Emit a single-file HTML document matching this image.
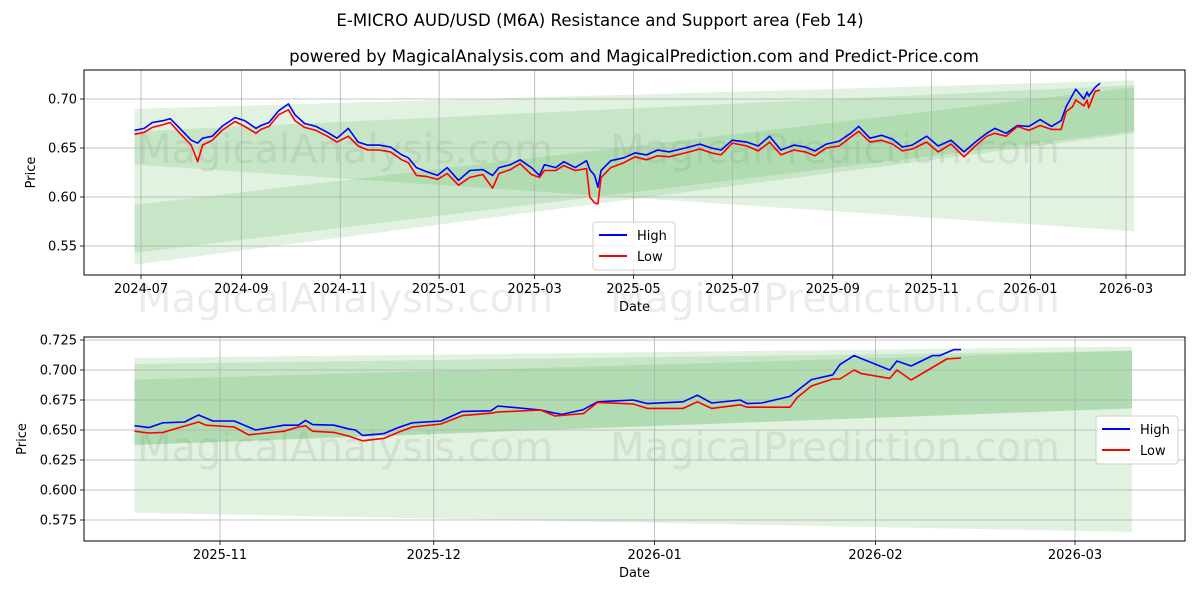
<!DOCTYPE html>
<html><head><meta charset="utf-8"><style>
body{margin:0;background:#fff;}
svg{display:block;font-family:"DejaVu Sans","Liberation Sans",sans-serif;}
</style></head><body>
<svg id="chart" width="1200" height="600" viewBox="0 0 1200 600" xmlns="http://www.w3.org/2000/svg">
<rect width="1200" height="600" fill="#fff"/>
<text x="600" y="26" text-anchor="middle" font-size="16.6">E-MICRO AUD/USD (M6A) Resistance and Support area (Feb 14)</text>
<text x="634" y="62" text-anchor="middle" font-size="16.6">powered by MagicalAnalysis.com and MagicalPrediction.com and Predict-Price.com</text>
<g id="top"></g>
<g id="bot"></g>
</svg>
<script>
// ---- top chart data ----
const topDates=["2024-06-27","2024-07-03","2024-07-08","2024-07-15","2024-07-19","2024-07-25","2024-08-01","2024-08-05","2024-08-08","2024-08-14","2024-08-20","2024-08-28","2024-09-03","2024-09-10","2024-09-13","2024-09-18","2024-09-24","2024-09-30","2024-10-04","2024-10-10","2024-10-17","2024-10-24","2024-10-30","2024-11-06","2024-11-12","2024-11-18","2024-11-25","2024-12-02","2024-12-09","2024-12-13","2024-12-18","2024-12-24","2024-12-31","2025-01-06","2025-01-13","2025-01-20","2025-01-28","2025-02-03","2025-02-07","2025-02-14","2025-02-20","2025-02-27","2025-03-04","2025-03-07","2025-03-14","2025-03-19","2025-03-26","2025-04-02","2025-04-04","2025-04-07","2025-04-09","2025-04-11","2025-04-17","2025-04-25","2025-05-02","2025-05-09","2025-05-16","2025-05-23","2025-06-02","2025-06-11","2025-06-18","2025-06-24","2025-07-01","2025-07-10","2025-07-17","2025-07-24","2025-07-31","2025-08-08","2025-08-15","2025-08-21","2025-08-28","2025-09-05","2025-09-12","2025-09-17","2025-09-24","2025-10-01","2025-10-08","2025-10-14","2025-10-20","2025-10-29","2025-11-05","2025-11-13","2025-11-21","2025-11-28","2025-12-05","2025-12-10","2025-12-17","2025-12-24","2025-12-31","2026-01-07","2026-01-14","2026-01-20","2026-01-23","2026-01-27","2026-01-29","2026-02-03","2026-02-05","2026-02-06","2026-02-10","2026-02-13"];
const topHigh=[.668,.670,.676,.678,.680,.670,.658,.655,.660,.662,.672,.681,.678,.670,.673,.676,.688,.695,.684,.675,.672,.666,.660,.670,.656,.653,.653,.651,.643,.640,.630,.626,.622,.630,.617,.627,.628,.622,.630,.633,.638,.630,.622,.633,.630,.636,.630,.637,.628,.622,.610,.627,.637,.640,.645,.643,.648,.646,.650,.654,.650,.648,.658,.656,.652,.662,.648,.653,.651,.647,.654,.657,.665,.672,.660,.663,.659,.651,.653,.662,.652,.658,.646,.656,.665,.670,.665,.673,.672,.679,.672,.678,.692,.704,.710,.700,.707,.703,.712,.716];
const topLow=[.664,.666,.671,.674,.676,.665,.653,.636,.653,.658,.668,.677,.672,.665,.669,.672,.684,.689,.678,.671,.668,.662,.656,.662,.652,.648,.648,.646,.638,.635,.622,.621,.618,.624,.612,.620,.623,.609,.624,.628,.634,.623,.620,.627,.627,.632,.627,.629,.600,.594,.593,.620,.630,.635,.641,.638,.642,.641,.645,.649,.645,.643,.655,.652,.647,.656,.643,.648,.646,.642,.650,.652,.661,.667,.656,.658,.654,.647,.649,.656,.646,.654,.641,.652,.662,.665,.662,.672,.668,.673,.669,.669,.687,.692,.699,.693,.699,.691,.708,.709];
const topTickDates=["2024-07-01","2024-09-01","2024-11-01","2025-01-01","2025-03-01","2025-05-01","2025-07-01","2025-09-01","2025-11-01","2026-01-01","2026-03-01"];
const topTickLabels=["2024-07","2024-09","2024-11","2025-01","2025-03","2025-05","2025-07","2025-09","2025-11","2026-01","2026-03"];
const topYTicks=[0.55,0.60,0.65,0.70];
const topBandStart="2024-06-27", topBandEnd="2026-03-06";
const topBandStartTop=[0.690,0.667,0.592];
const topBandStartBot=[0.633,0.543,0.531];
const topBandEndTop=[0.719,0.714,0.712];
const topBandEndBot=[0.565,0.667,0.665];
// ---- bottom chart data ----
const botHighDates=["2025-10-20","2025-10-22","2025-10-24","2025-10-27","2025-10-29","2025-10-31","2025-11-03","2025-11-05","2025-11-06","2025-11-10","2025-11-12","2025-11-13","2025-11-14","2025-11-17","2025-11-19","2025-11-20","2025-11-21","2025-11-24","2025-11-26","2025-11-28","2025-12-02","2025-12-05","2025-12-09","2025-12-10","2025-12-16","2025-12-18","2025-12-19","2025-12-22","2025-12-24","2025-12-29","2025-12-31","2026-01-05","2026-01-07","2026-01-09","2026-01-13","2026-01-14","2026-01-16","2026-01-20","2026-01-23","2026-01-26","2026-01-27","2026-01-29","2026-02-03","2026-02-04","2026-02-06","2026-02-09","2026-02-10","2026-02-12","2026-02-13"];
const botHigh=[.6536,.652,.656,.6567,.6625,.6575,.6575,.6525,.650,.654,.654,.658,.6545,.654,.651,.650,.6455,.647,.652,.656,.6575,.6655,.666,.670,.6667,.664,.663,.667,.6735,.675,.672,.6735,.679,.6725,.675,.672,.6725,.678,.692,.696,.7045,.712,.700,.7075,.7033,.712,.712,.717,.717];
const botLowDates=["2025-10-20","2025-10-22","2025-10-24","2025-10-29","2025-10-30","2025-11-03","2025-11-05","2025-11-10","2025-11-12","2025-11-13","2025-11-14","2025-11-17","2025-11-19","2025-11-21","2025-11-24","2025-11-26","2025-11-28","2025-12-02","2025-12-05","2025-12-09","2025-12-10","2025-12-16","2025-12-18","2025-12-22","2025-12-24","2025-12-29","2025-12-31","2026-01-05","2026-01-07","2026-01-09","2026-01-13","2026-01-14","2026-01-20","2026-01-21","2026-01-23","2026-01-26","2026-01-27","2026-01-29","2026-01-30","2026-02-03","2026-02-04","2026-02-06","2026-02-11","2026-02-13"];
const botLow=[.649,.6475,.648,.6567,.654,.6525,.646,.649,.6525,.6535,.649,.648,.645,.641,.643,.648,.6525,.655,.662,.664,.665,.6667,.6617,.6637,.673,.6717,.668,.668,.6735,.668,.671,.669,.669,.677,.6867,.6925,.6925,.700,.697,.693,.700,.6917,.7092,.710];
const botTickDates=["2025-11-01","2025-12-01","2026-01-01","2026-02-01","2026-03-01"];
const botTickLabels=["2025-11","2025-12","2026-01","2026-02","2026-03"];
const botYTicks=[0.575,0.600,0.625,0.650,0.675,0.700,0.725];
const botBandStart="2025-10-20", botBandEnd="2026-03-09";
const botBandStartTop=[0.710,0.705,0.692];
const botBandStartBot=[0.581,0.6375,0.6375];
const botBandEndTop=[0.7195,0.716,0.716];
const botBandEndBot=[0.565,0.668,0.668];

const NS="http://www.w3.org/2000/svg";
function mk(tag,attrs,parent){const e=document.createElementNS(NS,tag);for(const k in attrs)e.setAttribute(k,attrs[k]);parent.appendChild(e);return e;}
function t(d){return Date.parse(d+"T00:00:00Z");}

function panel(g,box,xd0,xp0,xd1,xp1,yv0,yp0,yv1,yp1,o){
  const X=d=>xp0+(t(d)-t(xd0))/(t(xd1)-t(xd0))*(xp1-xp0);
  const Y=v=>yp0+(v-yv0)/(yv1-yv0)*(yp1-yp0);
  const clip="clip"+o.id;
  const cp=mk("clipPath",{id:clip},g);mk("rect",{x:box.x,y:box.y,width:box.w,height:box.h},cp);
  o.wm.forEach(w=>{const e=mk("text",{x:w[1],y:w[2],"font-size":40,fill:"rgba(140,140,140,0.17)","text-anchor":"middle"},g);e.textContent=w[0];
    
    });
  for(let i=0;i<o.bst.length;i++){
    const x0=X(o.bs),x1=X(o.be);
    const p=mk("polygon",{points:`${x0},${Y(o.bst[i])} ${x1},${Y(o.bet[i])} ${x1},${Y(o.beb[i])} ${x0},${Y(o.bsb[i])}`,fill:"rgba(44,160,44,0.14)","clip-path":`url(#${clip})`},g);
    
    
  }
  o.xt.forEach((d,i)=>{const x=X(d);
    const l=mk("line",{x1:x,x2:x,y1:box.y,y2:box.y+box.h,stroke:"#b0b0b0","stroke-width":0.8},g);
    
    
    mk("line",{x1:x,x2:x,y1:box.y+box.h,y2:box.y+box.h+4,stroke:"#000","stroke-width":0.8},g);
    const tx=mk("text",{x:x,y:box.y+box.h+18,"font-size":13,"text-anchor":"middle"},g);tx.textContent=o.xl[i];
    
    });
  o.yt.forEach(v=>{const y=Y(v);
    const l=mk("line",{x1:box.x,x2:box.x+box.w,y1:y,y2:y,stroke:"#b0b0b0","stroke-width":0.8},g);
    
    
    mk("line",{x1:box.x-4,x2:box.x,y1:y,y2:y,stroke:"#000","stroke-width":0.8},g);
    const tx=mk("text",{x:box.x-7,y:y+4.5,"font-size":13,"text-anchor":"end"},g);tx.textContent=v.toFixed(o.dec);
    
    });
  const line=(ds,vs,c,name)=>{const p=mk("polyline",{points:ds.map((d,i)=>X(d).toFixed(1)+","+Y(vs[i]).toFixed(1)).join(" "),fill:"none",stroke:c,"stroke-width":1.6,"stroke-linejoin":"round","clip-path":`url(#${clip})`},g);
    
    };
  line(o.hd,o.h,"#0000ff","high-line");
  line(o.ld,o.l,"#ff0000","low-line");
  const fr=mk("rect",{x:box.x,y:box.y,width:box.w,height:box.h,fill:"none",stroke:"#000","stroke-width":1},g);
  
  
  const xl=mk("text",{x:box.x+box.w/2,y:box.y+box.h+36,"font-size":13,"text-anchor":"middle"},g);xl.textContent="Date";
  
  
  const yx=o.ylx,yy=box.y+box.h/2;
  const yl=mk("text",{x:yx,y:yy,"font-size":13,"text-anchor":"middle",transform:`rotate(-90 ${yx} ${yy})`},g);yl.textContent="Price";
  
  
  const L=o.leg;
  const lg=mk("g",{},g);
  
  
  mk("rect",{x:L[0],y:L[1],width:82,height:48,rx:3,fill:"rgba(255,255,255,0.85)",stroke:"#d0d0d0"},lg);
  [["High","#0000ff"],["Low","#ff0000"]].forEach((s,i)=>{const yy=L[1]+13+i*21;
    mk("line",{x1:L[0]+6,x2:L[0]+34,y1:yy,y2:yy,stroke:s[1],"stroke-width":2},lg);
    const tx=mk("text",{x:L[0]+44,y:yy+5,"font-size":13},lg);tx.textContent=s[0];
    
    });
}
panel(document.getElementById("top"),{x:84,y:70,w:1101,h:205},"2024-07-01",141,"2026-03-01",1126,0.70,99,0.55,246,
 {id:"t",xt:topTickDates,xl:topTickLabels,yt:topYTicks,dec:2,hd:topDates,h:topHigh,ld:topDates,l:topLow,
  bs:topBandStart,be:topBandEnd,bst:topBandStartTop,bsb:topBandStartBot,bet:topBandEndTop,beb:topBandEndBot,
  leg:[593,222],ylx:35,wm:[["MagicalAnalysis.com",345,163],["MagicalPrediction.com",835,163],["MagicalAnalysis.com",345,312],["MagicalPrediction.com",835,312]]});
panel(document.getElementById("bot"),{x:84,y:337,w:1101,h:204},"2025-11-01",220,"2026-03-01",1075,0.700,370,0.600,490,
 {id:"b",xt:botTickDates,xl:botTickLabels,yt:botYTicks,dec:3,hd:botHighDates,h:botHigh,ld:botLowDates,l:botLow,
  bs:botBandStart,be:botBandEnd,bst:botBandStartTop,bsb:botBandStartBot,bet:botBandEndTop,beb:botBandEndBot,
  leg:[1096,416],ylx:26,wm:[["MagicalAnalysis.com",345,461],["MagicalPrediction.com",835,461]]});
</script>
</body></html>
